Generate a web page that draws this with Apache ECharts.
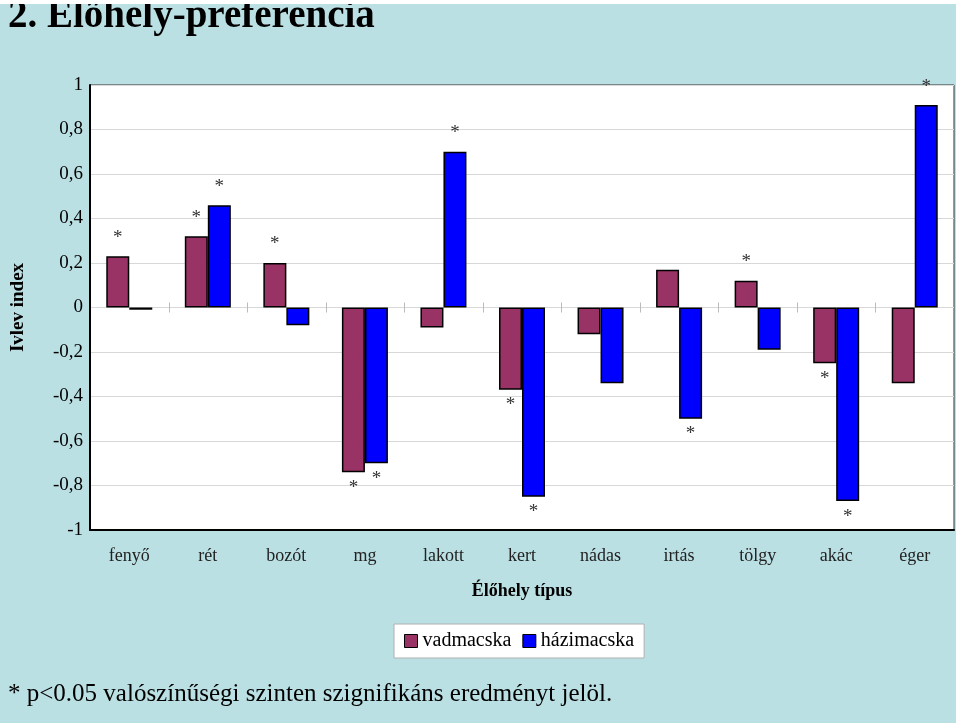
<!DOCTYPE html>
<html>
<head>
<meta charset="utf-8">
<script src="https://cdn.jsdelivr.net/npm/echarts@6/dist/echarts.min.js"></script>
<style>
html,body{margin:0;padding:0;background:#fff;}
#c{width:960px;height:723px;}
</style>
</head>
<body>
<div id="c"></div>
<script>
const categories = ['fenyő','rét','bozót','mg','lakott','kert','nádas','irtás','tölgy','akác','éger'];
const vadmacska = [0.23, 0.32, 0.20, -0.74, -0.09, -0.37, -0.12, 0.17, 0.12, -0.25, -0.34];
const hazimacska = [-0.01, 0.46, -0.08, -0.70, 0.70, -0.85, -0.34, -0.50, -0.19, -0.87, 0.91];
const sigVad = [1,1,1,1,0,1,0,0,1,1,0];
const sigHaz = [0,1,0,1,1,1,0,1,0,1,1];
const yTicks = [-1,-0.8,-0.6,-0.4,-0.2,0,0.2,0.4,0.6,0.8,1];

const SERIF = '"Liberation Serif","DejaVu Serif",serif';

function mk(vals, sig){
  return vals.map((v,i)=>({
    value: v,
    label: {
      show: !!sig[i],
      formatter: '*',
      position: v >= 0 ? 'top' : 'bottom',
      distance: v >= 0 ? 9 : 6,
      fontFamily: SERIF, fontSize: 19, color: '#333'
    }
  }));
}

// category boundary ticks on the zero line (between neighbouring categories)
const boundaryIdx = categories.slice(0, categories.length - 1).map((c, i) => i);

const chart = echarts.init(document.getElementById('c'));
chart.setOption({
  backgroundColor: '#fff',
  animation: false,
  graphic: [
    {type:'rect', shape:{x:0,y:4,width:956,height:719}, style:{fill:'#bbe0e4'}, z:-10, silent:true},
    {type:'text', x:8, y:-3, style:{text:'2. Előhely-preferencia', font:'bold 39px "Liberation Serif", serif', fill:'#000'}, z:5},
    {type:'rect', shape:{x:0,y:0,width:960,height:4}, style:{fill:'#fff'}, z:10, silent:true},
    {type:'rect', shape:{x:956,y:0,width:4,height:723}, style:{fill:'#fff'}, z:10, silent:true},
    {type:'text', x:8, y:682, style:{text:'* p<0.05 valószínűségi szinten szignifikáns eredményt jelöl.', font:'25px "Liberation Serif", serif', fill:'#000'}, z:5}
  ],
  grid: {left:90, top:85, right:6, bottom:193, show:true, backgroundColor:'#fff', borderColor:'#333', borderWidth:1},
  legend: {
    data:['vadmacska','házimacska'],
    top: 624, left: 394,
    icon: 'rect',
    backgroundColor:'#fff', borderColor:'#b0b0b0', borderWidth:1,
    padding:[7,10], itemGap:11, itemWidth:13, itemHeight:13,
    itemStyle:{borderWidth:1, borderColor:'#000'},
    textStyle:{fontFamily:SERIF, fontSize:20, color:'#000'}
  },
  xAxis: {
    type:'category', data:categories, position:'bottom',
    axisLine:{show:true, onZero:false, lineStyle:{color:'#000', width:2}},
    axisTick:{show:false},
    axisLabel:{fontFamily:SERIF, fontSize:18, color:'#222', margin:17},
    name:'Élőhely típus', nameLocation:'middle', nameGap:52,
    nameTextStyle:{fontFamily:SERIF, fontSize:18, fontWeight:'bold', color:'#000'}
  },
  yAxis: {
    type:'value', min:-1, max:1, interval:0.2,
    axisLine:{show:true, lineStyle:{color:'#000', width:2}},
    axisTick:{show:false},
    splitLine:{show:true, lineStyle:{color:'#d8d8d8', width:1}},
    axisLabel:{
      fontFamily:SERIF, fontSize:19, color:'#000', margin:7,
      formatter: v => { const r = Math.round(v*10)/10; return String(r).replace('.', ','); }
    },
    name:'Ivlev index', nameLocation:'middle', nameGap:62, nameRotate:90,
    nameTextStyle:{fontFamily:SERIF, fontSize:19, fontWeight:'bold', color:'#000'}
  },
  series: [
    {
      type:'custom', silent:true, z:1,
      data: boundaryIdx,
      renderItem: (params, api) => {
        const i = api.value(0);
        const p = api.coord([i, 0]);
        const half = api.size([1, 0])[0] / 2;
        const x = Math.round(p[0] + half) + 0.5;
        return {type:'line', shape:{x1:x, y1:p[1]-5, x2:x, y2:p[1]+5}, style:{stroke:'#bbb', lineWidth:1}};
      },
      encode: {x: 0}
    },
    {
      name:'vadmacska', type:'bar', data: mk(vadmacska, sigVad),
      barWidth:23, barGap:'0%',
      itemStyle:{color:'#993366', borderColor:'#000', borderWidth:1.5}
    },
    {
      name:'házimacska', type:'bar', data: mk(hazimacska, sigHaz),
      barWidth:23, barGap:'0%',
      itemStyle:{color:'#0000ff', borderColor:'#000', borderWidth:1.5}
    }
  ]
});
</script>
</body>
</html>
